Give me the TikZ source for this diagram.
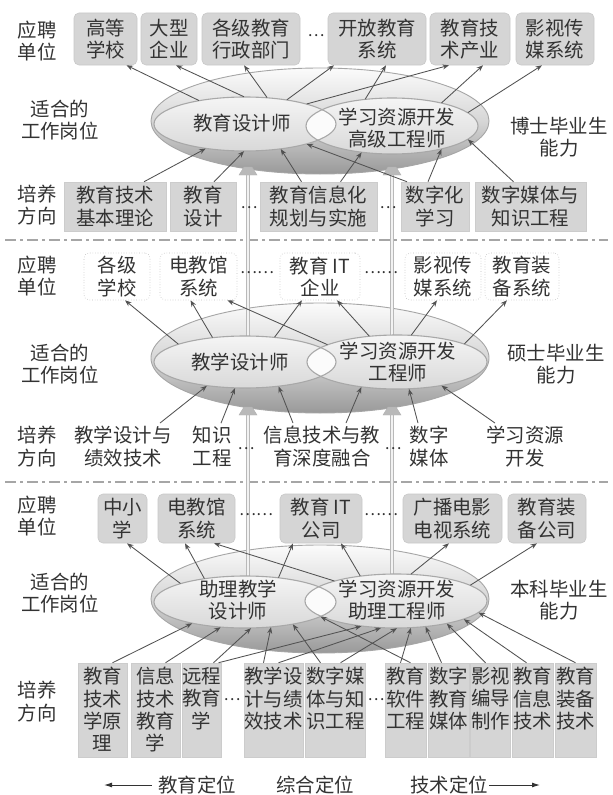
\documentclass[tikz,border=0pt]{standalone}
\usepackage{fontspec}
\newfontfamily\cjk{Noto Sans CJK SC}
\usetikzlibrary{shapes.geometric,arrows.meta}
\begin{document}
\begin{tikzpicture}[x=1bp,y=-1bp,
  every node/.style={font=\cjk\fontsize{19.5}{22.5}\selectfont, text=black!80, inner sep=0pt, align=center},
  gbox/.style={rounded corners=5bp, fill=gray!33, draw=gray!42, line width=0.6bp},
  sbox/.style={fill=gray!33, draw=gray!40, line width=0.5bp},
  wbox/.style={rounded corners=5bp, draw=gray!50, line width=0.6bp, dotted},
  outerE/.style={ellipse, draw=gray!70, line width=0.9bp, top color=gray!3, bottom color=gray!80, middle color=gray!32},
  innerE/.style={ellipse, top color=gray!8, bottom color=gray!30},
  eline/.style={draw=gray!68, line width=1.1bp},
  lens/.style={fill=gray!3},
  arr/.style={draw=black!68, line width=0.85bp, -{Stealth[length=6.5bp,width=5bp]}},
  sepline/.style={draw=gray!70, line width=2.2bp, dash pattern=on 11bp off 4bp on 3bp off 4bp},
  vline/.style={draw=gray!55, line width=0.7bp, double=gray!10, double distance=2.4bp},
  trihead/.style={fill=gray!55, draw=gray!60, line width=0.4bp},
  dots/.style={font=\cjk\fontsize{16}{16}\selectfont},
  barr/.style={draw=black!80, line width=1bp, -{Latex[length=8bp,width=5bp]}}
]
% background / bounding box
\fill[white] (0,0) rectangle (613,795);
\useasboundingbox (0,0) rectangle (613,795);

% separators
\coordinate (s1L) at (5,240); \coordinate (s1R) at (608,240);
\coordinate (s2L) at (5,482); \coordinate (s2R) at (608,482);
\draw[sepline] (s1L) -- (s1R);
\draw[sepline] (s2L) -- (s2R);

% outer discs
\node[outerE, minimum width=338bp, minimum height=106bp] (eTO) at (320,121) {};
\node[outerE, minimum width=338bp, minimum height=110bp] (eMO) at (320,358) {};
\node[outerE, minimum width=338bp, minimum height=108bp] (eBO) at (320,599) {};

% vertical double lines
\coordinate (vLa) at (248,590); \coordinate (vLb) at (248,413);
\coordinate (vLc) at (248,350); \coordinate (vLd) at (248,173);
\coordinate (vRa) at (392,590); \coordinate (vRb) at (392,413);
\coordinate (vRc) at (392,350); \coordinate (vRd) at (392,173);
\draw[vline] (vLa) -- (vLb);
\draw[vline] (vLc) -- (vLd);
\draw[vline] (vRa) -- (vRb);
\draw[vline] (vRc) -- (vRd);
\foreach \xx/\yy in {248/174,392/174,248/414,392/414}{
  \filldraw[trihead] (\xx-9,\yy+1) -- (\xx+9,\yy+1) -- (\xx+4,\yy-7) -- (\xx-4,\yy-7) -- cycle;
}

% inner ellipses: top tier
\node[innerE, minimum width=182bp, minimum height=54bp] (eTL) at (245,124) {};
\node[innerE, minimum width=172bp, minimum height=56bp] (eTR) at (392,126) {};
\begin{scope}
  \clip (245,124) ellipse [x radius=91bp, y radius=27bp];
  \fill[lens] (392,126) ellipse [x radius=86bp, y radius=28bp];
\end{scope}
\draw[eline] (245,124) ellipse [x radius=91bp, y radius=27bp];
\draw[eline] (392,126) ellipse [x radius=86bp, y radius=28bp];

% inner ellipses: middle tier
\node[innerE, minimum width=182bp, minimum height=52bp] (eML) at (245,362) {};
\node[innerE, minimum width=180bp, minimum height=54bp] (eMR) at (397,362) {};
\begin{scope}
  \clip (245,362) ellipse [x radius=91bp, y radius=26bp];
  \fill[lens] (397,362) ellipse [x radius=90bp, y radius=27bp];
\end{scope}
\draw[eline] (245,362) ellipse [x radius=91bp, y radius=26bp];
\draw[eline] (397,362) ellipse [x radius=90bp, y radius=27bp];

% inner ellipses: bottom tier
\node[innerE, minimum width=182bp, minimum height=52bp] (eBL) at (245,602) {};
\node[innerE, minimum width=182bp, minimum height=54bp] (eBR) at (396,601) {};
\begin{scope}
  \clip (245,602) ellipse [x radius=91bp, y radius=26bp];
  \fill[lens] (396,601) ellipse [x radius=91bp, y radius=27bp];
\end{scope}
\draw[eline] (245,602) ellipse [x radius=91bp, y radius=26bp];
\draw[eline] (396,601) ellipse [x radius=91bp, y radius=27bp];

% ellipse texts
\node (tTL) at (242,123) {教育设计师};
\node (tTR) at (397,128) {学习资源开发\\高级工程师};
\node (tML) at (240,362) {教学设计师};
\node (tMR) at (398,362) {学习资源开发\\工程师};
\node (tBL) at (238,600) {助理教学\\设计师};
\node (tBR) at (397,600) {学习资源开发\\助理工程师};

% ===== top tier =====
\node (lT1) at (37,41) {应聘\\单位};
\node (lT2) at (60,120) {适合的\\工作岗位};
\node (lT3) at (559,137) {博士毕业生\\能力};
\node (lT4) at (37,205) {培养\\方向};

\node[gbox, minimum width=63bp, minimum height=52bp] (hb1) at (105.5,39) {高等\\学校};
\node[gbox, minimum width=56bp, minimum height=52bp] (hb2) at (169,39) {大型\\企业};
\node[gbox, minimum width=98bp, minimum height=52bp] (hb3) at (251,39) {各级教育\\行政部门};
\node[dots] (hd1) at (316,36) {…};
\node[gbox, minimum width=98bp, minimum height=52bp] (hb4) at (377,39) {开放教育\\系统};
\node[gbox, minimum width=80bp, minimum height=52bp] (hb5) at (470,39) {教育技\\术产业};
\node[gbox, minimum width=78bp, minimum height=52bp] (hb6) at (555,39) {影视传\\媒系统};

\node[sbox, minimum width=102bp, minimum height=49bp] (tb1) at (115,206.5) {教育技术\\基本理论};
\node[sbox, minimum width=66bp, minimum height=49bp] (tb2) at (203,206.5) {教育\\设计};
\node[dots] (td1) at (249,208) {…};
\node[sbox, minimum width=117bp, minimum height=49bp] (tb3) at (318.5,206.5) {教育信息化\\规划与实施};
\node[dots] (td2) at (388,208) {…};
\node[sbox, minimum width=68bp, minimum height=49bp] (tb4) at (435,206.5) {数字化\\学习};
\node[sbox, minimum width=111bp, minimum height=49bp] (tb5) at (530.5,206.5) {数字媒体与\\知识工程};

% ===== middle tier =====
\node (lM1) at (37,276) {应聘\\单位};
\node (lM2) at (60,364) {适合的\\工作岗位};
\node (lM3) at (556,364) {硕士毕业生\\能力};
\node (lM4) at (37,446.5) {培养\\方向};

\node[wbox, minimum width=66bp, minimum height=47bp] (mb1) at (117,276.5) {各级\\学校};
\node[wbox, minimum width=77bp, minimum height=47bp] (mb2) at (198.5,276.5) {电教馆\\系统};
\node[dots] (md1) at (257,273) {……};
\node[wbox, minimum width=80bp, minimum height=47bp] (mb3) at (320,276.5) {教育 IT\\企业};
\node[dots] (md2) at (381,273) {……};
\node[wbox, minimum width=76bp, minimum height=47bp] (mb4) at (443,276.5) {影视传\\媒系统};
\node[wbox, minimum width=74bp, minimum height=47bp] (mb5) at (522,276.5) {教育装\\备系统};

\node[inner sep=3bp] (mt1) at (123,446.5) {教学设计与\\绩效技术};
\node[inner sep=3bp] (mt2) at (212,446.5) {知识\\工程};
\node[dots] (mtd1) at (246,449) {…};
\node[inner sep=3bp] (mt3) at (322,446.5) {信息技术与教\\育深度融合};
\node[dots] (mtd2) at (393,449) {…};
\node[inner sep=3bp] (mt4) at (429,446.5) {数字\\媒体};
\node[inner sep=3bp] (mt5) at (525,446.5) {学习资源\\开发};

% ===== bottom tier =====
\node (lB1) at (37,516) {应聘\\单位};
\node (lB2) at (60,593) {适合的\\工作岗位};
\node (lB3) at (559,600) {本科毕业生\\能力};
\node (lB4) at (37,701.5) {培养\\方向};

\node[gbox, minimum width=49bp, minimum height=49bp] (bb1) at (122.5,518.5) {中小\\学};
\node[gbox, minimum width=77bp, minimum height=49bp] (bb2) at (196.5,518.5) {电教馆\\系统};
\node[dots] (bd1) at (256,515) {……};
\node[gbox, minimum width=82bp, minimum height=49bp] (bb3) at (321,518.5) {教育 IT\\公司};
\node[dots] (bd2) at (381,515) {……};
\node[gbox, minimum width=99bp, minimum height=49bp] (bb4) at (452.5,518.5) {广播电影\\电视系统};
\node[gbox, minimum width=78bp, minimum height=49bp] (bb5) at (547,518.5) {教育装\\备公司};

\node[sbox, minimum width=49bp, minimum height=94bp] (bx1) at (102.5,710) {};
\node[sbox, minimum width=49bp, minimum height=94bp] (bx2) at (155.5,710) {};
\node[sbox, minimum width=39bp, minimum height=94bp] (bx3) at (201.5,710) {};
\node[sbox, minimum width=59bp, minimum height=94bp] (bx4) at (273.5,710) {};
\node[sbox, minimum width=60bp, minimum height=94bp] (bx5) at (335.5,710) {};
\node[sbox, minimum width=41bp, minimum height=94bp] (bx6) at (405.5,710) {};
\node[sbox, minimum width=41bp, minimum height=94bp] (bx7) at (448.5,710) {};
\node[sbox, minimum width=40bp, minimum height=94bp] (bx8) at (490.5,710) {};
\node[sbox, minimum width=41bp, minimum height=94bp] (bx9) at (532.5,710) {};
\node[sbox, minimum width=41bp, minimum height=94bp] (bx10) at (575.5,710) {};
\node[anchor=north] (bt1) at (102.5,667) {教育\\技术\\学原\\理};
\node[anchor=north] (bt2) at (155.5,667) {信息\\技术\\教育\\学};
\node[anchor=north] (bt3) at (201.5,667) {远程\\教育\\学};
\node[anchor=north] (bt4) at (273.5,667) {教学设\\计与绩\\效技术};
\node[anchor=north] (bt5) at (335.5,667) {数字媒\\体与知\\识工程};
\node[anchor=north] (bt6) at (405.5,667) {教育\\软件\\工程};
\node[anchor=north] (bt7) at (448.5,667) {数字\\教育\\媒体};
\node[anchor=north] (bt8) at (490.5,667) {影视\\编导\\制作};
\node[anchor=north] (bt9) at (532.5,667) {教育\\信息\\技术};
\node[anchor=north] (bt10) at (575.5,667) {教育\\装备\\技术};
\node[dots] (bxd1) at (232,700) {…};
\node[dots] (bxd2) at (376,700) {…};

% bottom legend
\node (pos1) at (197,785) {教育定位};
\node (pos2) at (315,785) {综合定位};
\node (pos3) at (449,785) {技术定位};
\coordinate (aL) at (104,785);
\coordinate (aR) at (540,785);
\draw[barr] ([xshift=-6bp]pos1.west) -- (aL);
\draw[barr] ([xshift=1bp]pos3.east) -- (aR);

% ===== arrows: top tier =====
\draw[arr] (eTL.153) -- ([xshift=21bp]hb1.south);
\draw[arr] (eTL.92) -- ([xshift=7bp]hb2.south);
\draw[arr] (eTL.50) -- ([xshift=-7bp]hb3.south);
\draw[arr] (eTL.30) -- ([xshift=-43bp]hb4.south);
\draw[arr] (eTL.18) -- ([xshift=-21bp]hb5.south);
\draw[arr] (eTR.135) -- ([xshift=9bp]hb4.south);
\draw[arr] (eTR.25) -- ([xshift=13bp]hb5.south);
\draw[arr] (eTR.10) -- ([xshift=-13bp]hb6.south);
\draw[arr] ([xshift=29bp]tb1.north) -- (eTL.212);
\draw[arr] ([xshift=11bp]tb2.north) -- (eTL.268);
\draw[arr] ([xshift=-17bp]tb3.north) -- (eTL.325);
\draw[arr] ([xshift=-28bp]tb4.north) -- (eTL.342);
\draw[arr] ([xshift=22bp]tb3.north) -- (eTR.221);
\draw[arr] ([xshift=-7bp]tb4.north) -- (eTR.335);
\draw[arr] ([xshift=-17bp]tb5.north) -- (eTR.350);

% ===== arrows: middle tier =====
\draw[arr] (eML.165) -- ([xshift=8bp]mb1.south);
\draw[arr] (eML.143) -- ([xshift=-8bp]mb2.south);
\draw[arr] (eMR.166) -- ([xshift=29bp]mb2.south);
\draw[arr] (eML.40) -- ([xshift=-18bp]mb3.south);
\draw[arr] (eMR.137) -- ([xshift=17bp]mb3.south);
\draw[arr] (eMR.62) -- ([xshift=-6bp]mb4.south);
\draw[arr] (eMR.15) -- ([xshift=-15bp]mb5.south);
\draw[arr] ([xshift=37bp]mt1.north) -- (eML.212);
\draw[arr] ([xshift=9bp]mt2.north) -- (eML.249);
\draw[arr] ([xshift=-29bp]mt3.north) -- (eML.324);
\draw[arr] ([xshift=24bp]mt3.north) -- (eMR.215);
\draw[arr] ([xshift=-11bp]mt4.north) -- (eMR.294);
\draw[arr] ([xshift=-30bp]mt5.north) -- (eMR.332);

% ===== arrows: bottom tier =====
\draw[arr] (eBL.164) -- ([xshift=4.5bp]bb1.south);
\draw[arr] (eBL.150) -- ([xshift=-11.5bp]bb2.south);
\draw[arr] (eBR.162) -- ([xshift=17.5bp]bb2.south);
\draw[arr] (eBL.36) -- ([xshift=-28bp]bb3.south);
\draw[arr] (eBR.145) -- ([xshift=20bp]bb3.south);
\draw[arr] (eBR.61) -- ([xshift=-3.5bp]bb4.south);
\draw[arr] (eBR.12) -- ([xshift=-10bp]bb5.south);
\draw[arr] ([xshift=10bp]bx1.north) -- (eBL.202);
\draw[arr] ([xshift=10bp]bx2.north) -- (eBL.226);
\draw[arr] ([xshift=12bp]bx3.north) -- (eBL.283);
\draw[arr] ([xshift=17bp]bx3.north) -- (eBR.216);
\draw[arr] ([xshift=-10bp]bx4.north) -- (eBL.316);
\draw[arr] ([xshift=5bp]bx4.north) -- (eBR.241);
\draw[arr] ([xshift=-15bp]bx5.north) -- (eBL.335);
\draw[arr] ([xshift=5bp]bx5.north) -- (eBR.272);
\draw[arr] ([xshift=5bp]bx6.north) -- (eBL.349);
\draw[arr] ([xshift=-5bp]bx6.north) -- (eBR.299);
\draw[arr] ([xshift=-7bp]bx7.north) -- (eBR.319);
\draw[arr] ([xshift=-5bp]bx8.north) -- (eBR.336);
\draw[arr] ([xshift=-6bp]bx9.north) -- (eBR.345);
\draw[arr] (bx10.north) -- (eBR.352);
\end{tikzpicture}
\end{document}
